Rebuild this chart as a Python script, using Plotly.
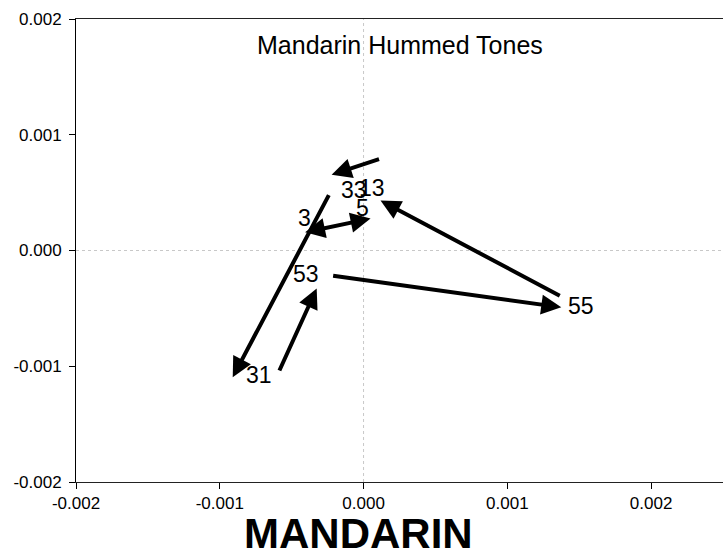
import plotly.graph_objects as go

# ---- data ----
arrow_from_x = [0.000118, -0.000236, -0.000417, -0.000590, -0.000222, 0.001375]
arrow_from_y = [0.000793, 0.000491, 0.000155, -0.001050, -0.000216, -0.000397]
arrow_to_x = [-0.000222, -0.000910, 0.0000486, -0.000326, 0.001375, 0.000118]
arrow_to_y = [0.000655, -0.001095, 0.000276, -0.000328, -0.000491, 0.000431]
arrow_sides = ["end", "end", "end+start", "end", "end", "end"]

label_text = ["55", "53", "31", "3", "33", "13", "5"]
label_x = [0.001514, -0.000403, -0.000729, -0.000410, -0.0000694, 0.0000556, -0.000007]
label_y = [-0.000483, -0.000207, -0.001078, 0.000284, 0.000526, 0.000543, 0.000371]

tick_vals = [-0.002, -0.001, 0.0, 0.001, 0.002]
tick_text = ["-0.002", "-0.001", "0.000", "0.001", "0.002"]

chart_title = "Mandarin Hummed Tones"
axis_caption = "MANDARIN"

FONT = "Liberation Sans, Arial, sans-serif"

fig = go.Figure()
# invisible trace to establish axes
fig.add_trace(go.Scatter(x=label_x, y=label_y, mode="markers",
                         marker=dict(opacity=0), hoverinfo="skip", showlegend=False))

# zero reference lines
fig.add_hline(y=0, line=dict(color="#c8c8c8", width=1, dash="dot"))
fig.add_vline(x=0, line=dict(color="#c8c8c8", width=1, dash="dot"))

annotations = []
for fx, fy, tx, ty, side in zip(arrow_from_x, arrow_from_y, arrow_to_x, arrow_to_y, arrow_sides):
    annotations.append(dict(
        x=tx, y=ty, ax=fx, ay=fy, xref="x", yref="y", axref="x", ayref="y",
        text="", showarrow=True, arrowhead=2, arrowside=side, arrowsize=1.0,
        arrowwidth=4, arrowcolor="black", standoff=0, startstandoff=0))

for t, lx, ly in zip(label_text, label_x, label_y):
    annotations.append(dict(x=lx, y=ly, xref="x", yref="y", text=t, showarrow=False,
                            font=dict(family=FONT, size=23, color="black")))

annotations.append(dict(x=0.5, y=0.944, xref="paper", yref="paper", text=chart_title,
                        showarrow=False, xanchor="center", yanchor="middle",
                        font=dict(family=FONT, size=25, color="black")))
annotations.append(dict(x=0.436, y=-0.1655, xref="paper", yref="paper",
                        text="<b>" + axis_caption + "</b>", showarrow=False,
                        xanchor="center", yanchor="bottom",
                        font=dict(family=FONT, size=42, color="black")))

fig.update_layout(
    width=723, height=560,
    margin=dict(l=76, r=0, t=19, b=78),
    paper_bgcolor="white", plot_bgcolor="white",
    showlegend=False,
    annotations=annotations,
    xaxis=dict(range=[-0.002, 0.0025], tickvals=tick_vals, ticktext=tick_text,
               showgrid=False, zeroline=False, showline=True, linecolor="#222222",
               linewidth=1, mirror=True, ticks="outside", ticklen=6, tickcolor="black",
               tickfont=dict(family=FONT, size=17, color="black")),
    yaxis=dict(range=[-0.002, 0.002], tickvals=tick_vals, ticktext=tick_text,
               showgrid=False, zeroline=False, showline=True, linecolor="black",
               linewidth=1, ticks="outside", ticklen=6, tickcolor="black",
               ticklabelstandoff=4,
               tickfont=dict(family=FONT, size=17, color="black")),
)

fig.write_html("out.html")
